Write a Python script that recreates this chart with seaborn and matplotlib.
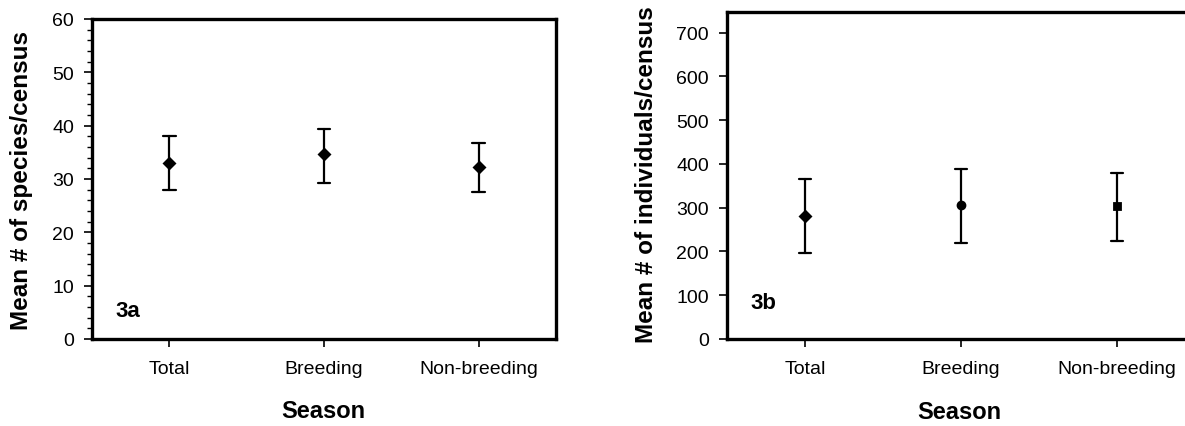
import matplotlib
matplotlib.use("Agg")
import matplotlib.pyplot as plt
from matplotlib.ticker import MultipleLocator
import seaborn as sns
import pandas as pd

# ---- data ----
seasons = ["Total", "Breeding", "Non-breeding"]

species_mean = [33.0, 34.7, 32.2]
species_low = [27.9, 29.3, 27.5]
species_high = [38.0, 39.4, 36.8]

indiv_mean = [282, 305, 304]
indiv_low = [196, 219, 224]
indiv_high = [366, 388, 380]

panel_labels = ["3a", "3b"]
ylabels = ["Mean # of species/census", "Mean # of individuals/census"]
xlabel = "Season"
left_markers = ["D", "D", "D"]
right_markers = ["D", "o", "s"]

sns.set_style("ticks")
plt.rcParams["font.family"] = ["Liberation Sans", "DejaVu Sans"]
plt.rcParams["text.color"] = "black"
plt.rcParams["axes.labelcolor"] = "black"
plt.rcParams["xtick.color"] = "black"
plt.rcParams["ytick.color"] = "black"


def long_table(mean, low, high):
    rows = []
    for s, m, lo, hi in zip(seasons, mean, low, high):
        for v in (lo, m, hi):
            rows.append({"Season": s, "value": v})
    return pd.DataFrame(rows)


fig = plt.figure(figsize=(11.85, 4.27), dpi=100)
ax1 = fig.add_axes([92 / 1185, 87 / 427, 464 / 1185, 320 / 427])
ax2 = fig.add_axes([727 / 1185, 87 / 427, 468 / 1185, 327 / 427])

pal = {s: "black" for s in seasons}

for ax, (mean, low, high), markers in [
    (ax1, (species_mean, species_low, species_high), left_markers),
    (ax2, (indiv_mean, indiv_low, indiv_high), right_markers),
]:
    df = long_table(mean, low, high)
    sns.pointplot(data=df, x="Season", y="value", hue="Season", order=seasons,
                  hue_order=seasons, palette=pal, estimator="median",
                  errorbar=("pi", 100), markers=markers, linestyles="none",
                  dodge=False, capsize=0.08, legend=False, ax=ax,
                  err_kws={"linewidth": 1.6}, markersize=5)
    ax.set_xlim(-0.5, 2.5)
    for sp in ax.spines.values():
        sp.set_linewidth(2.4)
        sp.set_color("black")
    ax.tick_params(axis="both", direction="out", colors="black",
                   labelsize=14, width=1.2, length=6, pad=7, labelcolor="black")
    ax.tick_params(axis="x", pad=9)

ax1.set_ylim(0, 60)
ax1.yaxis.set_major_locator(MultipleLocator(10))
ax1.yaxis.set_minor_locator(MultipleLocator(2))
ax1.tick_params(axis="y", which="minor", direction="out", length=3.5, width=1.0)

ax2.set_ylim(0, 747)
ax2.yaxis.set_major_locator(MultipleLocator(100))

for ax, lab, ylab, (tx, ty), (ylx, yly), (xlx, xly) in [
    (ax1, panel_labels[0], ylabels[0], (0.05, 0.09), (-0.151, 0.5), (0.498, -0.225)),
    (ax2, panel_labels[1], ylabels[1], (0.051, 0.113), (-0.171, 0.506), (0.496, -0.223)),
]:
    ax.text(tx, ty, lab, transform=ax.transAxes, fontsize=16,
            fontweight="bold", va="center", ha="left", color="black")
    ax.set_ylabel(ylab, fontsize=17.5, fontweight="bold", color="black")
    ax.set_xlabel(xlabel, fontsize=17, fontweight="bold", color="black")
    ax.yaxis.set_label_coords(ylx, yly)
    ax.yaxis.label.set_va("center")
    ax.xaxis.set_label_coords(xlx, xly)
    ax.xaxis.label.set_va("center")

fig.savefig("out.png", dpi=100)
